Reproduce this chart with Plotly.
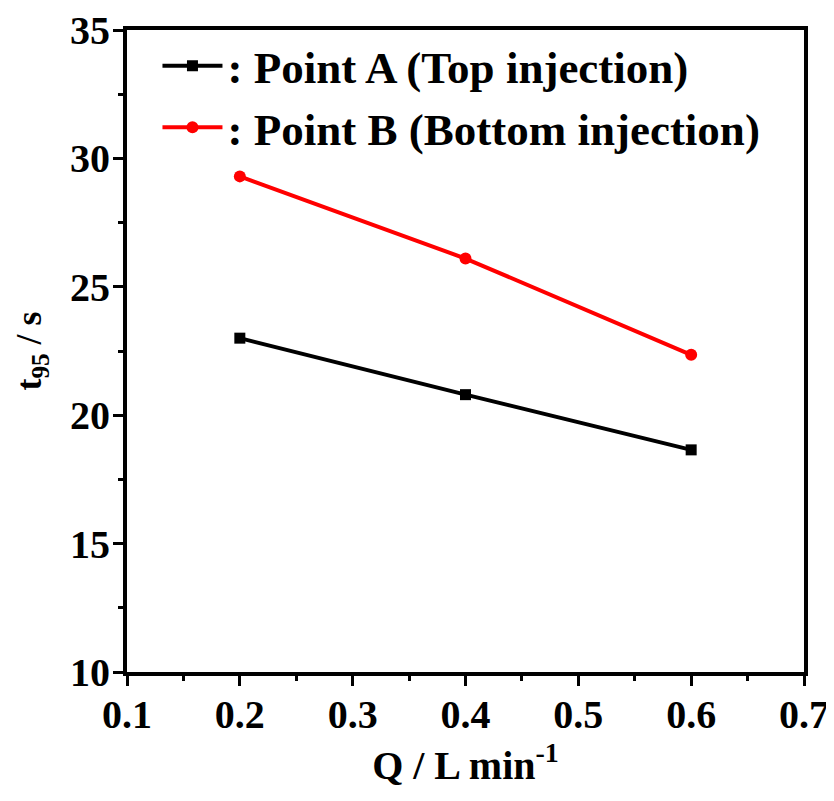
import plotly.graph_objects as go

flow = [0.2, 0.4, 0.6]
point_a = [23.0, 20.8, 18.65]
point_b = [29.3, 26.1, 22.35]
names = [": Point A (Top injection)", ": Point B (Bottom injection)"]

FONT = "Liberation Serif"

fig = go.Figure()
fig.add_trace(go.Scatter(x=flow, y=point_a, name=names[0], mode="lines+markers",
                         line=dict(color="black", width=4),
                         marker=dict(symbol="square", size=11, color="black")))
fig.add_trace(go.Scatter(x=flow, y=point_b, name=names[1], mode="lines+markers",
                         line=dict(color="#ff0000", width=4),
                         marker=dict(symbol="circle", size=12, color="#ff0000")))

axis_common = dict(showline=True, linecolor="black", linewidth=4, mirror=True,
                   ticks="outside", ticklen=10, tickwidth=3, tickcolor="black",
                   showgrid=False, zeroline=False, automargin=False,
                   tickfont=dict(family=FONT, size=40, color="black", weight="bold"))

fig.update_xaxes(range=[0.1, 0.7], dtick=0.1, tick0=0.1, tickformat=".1f",
                 ticklabelstandoff=-6,
                 minor=dict(ticks="outside", ticklen=5, tickwidth=3, dtick=0.05, tickcolor="black"),
                 title=dict(text="Q / L min<sup>-1</sup>", standoff=10,
                            font=dict(family=FONT, size=40, color="black", weight="bold")),
                 **axis_common)
fig.update_yaxes(range=[10, 35], dtick=5, ticklabelstandoff=-5,
                 minor=dict(ticks="outside", ticklen=5, tickwidth=3, dtick=2.5, tickcolor="black"),
                 title=dict(text="t<sub>95</sub> / s", standoff=18,
                            font=dict(family=FONT, size=36, color="black", weight="bold")),
                 **axis_common)

fig.update_layout(width=826, height=793, plot_bgcolor="white", paper_bgcolor="white",
                  margin=dict(l=119, r=30, t=22, b=129, autoexpand=False),
                  legend=dict(x=0.045, y=1.0, xanchor="left", yanchor="top",
                              bgcolor="rgba(0,0,0,0)", itemwidth=60, tracegroupgap=0,
                              font=dict(family=FONT, size=45, color="black", weight="bold")),
                  showlegend=True)

fig.write_html("out.html")
